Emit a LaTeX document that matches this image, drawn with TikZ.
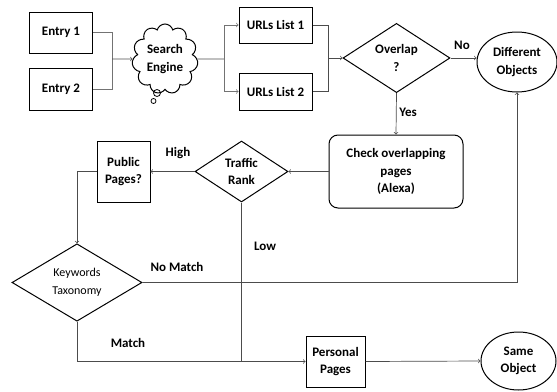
\documentclass[tikz,border=0pt]{standalone}
\usepackage{fontspec}
\setmainfont{Carlito}
\usetikzlibrary{shapes.geometric,
	shapes.symbols,
	arrows,
	positioning}

\begin{document}
\begin{tikzpicture}[x=1pt, y=-1pt, >=to,
                every node/.style={font=\fontsize{13}{17.5}\selectfont\bfseries, align=center},
                box/.style={draw, line width=1pt, inner sep=1pt},
                decision/.style={draw, diamond, line width=1pt, inner sep=0pt},
                terminal/.style={draw, ellipse, line width=1pt, inner sep=0pt},
                link/.style={draw=black!70, line width=0.7pt},
                tag/.style={inner sep=0pt}]
            \useasboundingbox (0,0) rectangle (557,391);
            % entries and search engine
            \node[box, minimum width=63pt, minimum height=41pt] (entryA) at (61,32.5) {Entry 1};
            \node[box, minimum width=63pt, minimum height=42pt] (entryB) at (61,89) {Entry 2};
            \node[draw, cloud, cloud puffs=11, cloud ignores aspect, line width=1pt,
                  minimum width=66pt, minimum height=70pt, inner sep=0pt] (engine) at (165,59) {Search\\Engine};
            \node[draw, circle, line width=0.8pt, minimum size=7pt, inner sep=0pt] (bubbleA) at (157,93) {};
            \node[draw, circle, line width=0.8pt, minimum size=5pt, inner sep=0pt] (bubbleB) at (153.5,101) {};
            \coordinate (joinA) at (112,59);
            \draw[link, draw=black!55] (entryA.east) -| (joinA);
            \draw[link, draw=black!55] (entryB.east) -| (joinA);
            \draw[link, ->] (joinA) -- (engine.west);
            % url lists
            \node[box, minimum width=73pt, minimum height=36pt] (listA) at (275.5,25) {URLs List 1};
            \node[box, minimum width=73pt, minimum height=37pt] (listB) at (275.5,91.5) {URLs List 2};
            \coordinate (splitA) at (224,59);
            \draw[link] (engine.east) -- (splitA);
            \draw[link, draw=black!55, ->] (splitA) |- (listA.west);
            \draw[link, draw=black!55, ->] (splitA) |- (listB.west);
            % overlap test
            \node[decision, minimum width=107pt, minimum height=62pt] (overlap) at (396.5,58) {Overlap\\?};
            \coordinate (joinB) at (328,58);
            \draw[link] (listA.east) -| (joinB);
            \draw[link] (listB.east) -| (joinB);
            \draw[link, ->] (joinB) -- (overlap.west);
            \node[terminal, minimum width=80pt, minimum height=60pt] (diff) at (517,62) {Different\\Objects};
            \draw[link, ->] (overlap.east) -- (overlap.east -| diff.west);
            \node[tag] (lblNo) at (462,45) {No};
            \node[box, rounded corners=9pt, minimum width=134pt, minimum height=73pt] (check) at (396,171.5) {Check overlapping\\pages\\(Alexa)};
            \draw[link, ->] (overlap.south) -- (check.north);
            \node[tag] (lblYes) at (408,112) {Yes};
            % traffic rank
            \node[decision, minimum width=93pt, minimum height=61pt] (traffic) at (241.5,171.5) {Traffic\\Rank};
            \draw[link, ->] (check.west) -- (traffic.east);
            \node[box, minimum width=53pt, minimum height=61pt] (public) at (123.5,171.5) {Public\\Pages?};
            \draw[link, ->] (traffic.west) -- (public.east);
            \node[tag] (lblHigh) at (178,153) {High};
            % keywords
            \node[decision, minimum width=130pt, minimum height=67pt,
                  font=\fontsize{12}{18}\selectfont] (keywords) at (77,282.5) {Keywords\\Taxonomy};
            \draw[link, ->] (public.west) -| (keywords.north);
            \draw[link, ->] (keywords.east) -| (diff.south);
            \node[tag] (lblNoMatch) at (177,267) {No Match};
            % personal pages
            \node[box, minimum width=59pt, minimum height=51pt] (personal) at (335.5,361.5) {Personal\\Pages};
            \draw[link, ->] (keywords.south) |- (personal.west);
            \draw[link] (traffic.south) -- (traffic.south |- personal.west);
            \node[tag] (lblMatch) at (128,343) {Match};
            \node[tag] (lblLow) at (265,246) {Low};
            \node[terminal, minimum width=75pt, minimum height=58pt] (same) at (518.5,361) {Same\\Object};
            \draw[link, ->] (personal.east) -- (same.west);
\end{tikzpicture}
\end{document}
